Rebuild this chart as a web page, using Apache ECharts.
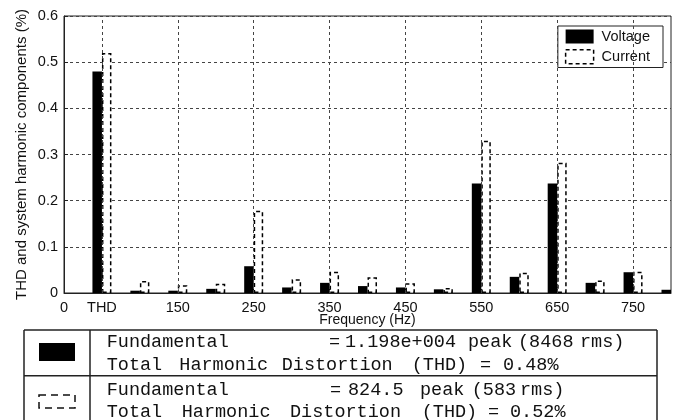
<!DOCTYPE html>
<html>
<head>
<meta charset="utf-8">
<script src="https://cdn.jsdelivr.net/npm/echarts@6/dist/echarts.min.js"></script>
<style>
html,body{margin:0;padding:0;background:#fff;}
#chart{width:679px;height:420px;}
</style>
</head>
<body>
<div id="chart"></div>
<script>
// ---- data ----
const xPositions = [1, 2, 3, 4, 5, 6, 7, 8, 9, 10, 11, 12, 13, 14, 15, 16];
const voltage = [0.48, 0.005, 0.005, 0.009, 0.058, 0.012, 0.022, 0.015, 0.012, 0.008, 0.237, 0.035, 0.237, 0.022, 0.045, 0.007];
const current = [0.52, 0.026, 0.017, 0.020, 0.178, 0.030, 0.046, 0.034, 0.021, 0.011, 0.330, 0.044, 0.282, 0.027, 0.046, null];
const tickValues = [0, 1, 3, 5, 7, 9, 11, 13, 15];
const tickLabels = ['0', 'THD', '150', '250', '350', '450', '550', '650', '750'];
const gridXValues = [1, 3, 5, 7, 9, 11, 13, 15];
const seriesNames = ['Voltage', 'Current'];
const xAxisTitle = 'Frequency (Hz)';
const yAxisTitle = 'THD and system harmonic components (%)';
const tableLines = [
  ['Fundamental', '=', '1.198e+004', 'peak', '(8468', 'rms)'],
  ['Total', 'Harmonic', 'Distortion', '(THD)', '=', '0.48%'],
  ['Fundamental', '=', '824.5', 'peak', '(583', 'rms)'],
  ['Total', 'Harmonic', 'Distortion', '(THD)', '=', '0.52%']
];

// ---- layout (not data) ----
const wordX = [
  [106.7, 329, 345, 468, 518, 580],
  [106.7, 179.3, 281.7, 411.7, 480, 503],
  [106.7, 330, 348, 420, 471.7, 520],
  [106.7, 181.7, 290, 421.7, 488, 510]
];
const lineY = [342.5, 365.5, 390.5, 412.5];

const chart = echarts.init(document.getElementById('chart'), null, {renderer: 'canvas'});
const sansFont = 'Liberation Sans, Arial, Helvetica, sans-serif';
const monoFont = 'Liberation Mono, Courier New, monospace';
const ink = '#111';

const graphics = [];
// table frame
const frameStyle = {stroke: '#222', lineWidth: 1.5};
graphics.push({type: 'line', shape: {x1: 24, y1: 330, x2: 657, y2: 330}, style: frameStyle});
graphics.push({type: 'line', shape: {x1: 24, y1: 375.7, x2: 657, y2: 375.7}, style: frameStyle});
graphics.push({type: 'line', shape: {x1: 24, y1: 330, x2: 24, y2: 421}, style: frameStyle});
graphics.push({type: 'line', shape: {x1: 657, y1: 330, x2: 657, y2: 421}, style: frameStyle});
graphics.push({type: 'line', shape: {x1: 90, y1: 330, x2: 90, y2: 421}, style: frameStyle});
// swatches
graphics.push({type: 'rect', shape: {x: 39, y: 343, width: 36, height: 18}, style: {fill: '#000'}});
graphics.push({type: 'rect', shape: {x: 39, y: 395, width: 36, height: 13}, style: {fill: 'none', stroke: '#111', lineWidth: 1.5, lineDash: [7, 5]}});
// table text
tableLines.forEach(function (words, r) {
  words.forEach(function (w, i) {
    graphics.push({
      type: 'text', x: wordX[r][i], y: lineY[r],
      style: {text: w, fill: ink, font: '18.5px ' + monoFont, textVerticalAlign: 'middle', verticalAlign: 'middle', textAlign: 'left'}
    });
  });
});

const option = {
  backgroundColor: '#fff',
  animation: false,
  grid: {left: 64, right: 8, top: 16, bottom: 127, show: true, borderColor: '#222', borderWidth: 1, containLabel: false, outerBoundsMode: 'none'},
  legend: {
    data: [
      {name: seriesNames[0], itemStyle: {color: '#000', borderWidth: 0}},
      {name: seriesNames[1], itemStyle: {color: '#fff', borderColor: '#000', borderWidth: 1.5, borderType: [4, 3]}}
    ],
    orient: 'vertical', right: 16, top: 26,
    itemWidth: 28, itemHeight: 14, itemGap: 5,
    padding: [3, 13, 3, 7],
    borderColor: '#222', borderWidth: 1, backgroundColor: '#fff',
    icon: 'rect',
    textStyle: {color: ink, fontSize: 14.5, fontFamily: sansFont, padding: [0, 0, 0, 3]}
  },
  xAxis: {
    type: 'value', min: 0, max: 16,
    name: xAxisTitle, nameLocation: 'middle', nameGap: 20, nameMoveOverlap: false,
    nameTextStyle: {color: ink, fontSize: 14, fontFamily: sansFont},
    axisLine: {show: true, onZero: false, lineStyle: {color: '#222', width: 1}},
    axisTick: {show: true, inside: true, length: 4, customValues: tickValues, lineStyle: {color: '#222'}},
    axisLabel: {
      show: true, customValues: tickValues, margin: 7,
      color: ink, fontSize: 14.5, fontFamily: sansFont,
      formatter: function (v) { const i = tickValues.indexOf(v); return i >= 0 ? tickLabels[i] : ''; }
    },
    splitLine: {show: false}
  },
  yAxis: {
    type: 'value', min: 0, max: 0.6, interval: 0.1,
    name: yAxisTitle, nameLocation: 'middle', nameGap: 35, nameMoveOverlap: false,
    nameTextStyle: {color: ink, fontSize: 15, fontFamily: sansFont},
    axisLine: {show: true, lineStyle: {color: '#222', width: 1}},
    axisTick: {show: true, inside: true, length: 4, lineStyle: {color: '#222'}},
    axisLabel: {color: ink, fontSize: 14.5, fontFamily: sansFont, margin: 6,
      formatter: function (v) { return String(Math.round(v * 10) / 10); }},
    splitLine: {show: true, lineStyle: {color: '#444', width: 1, type: [3, 3]}}
  },
  series: [
    {
      name: 'grid-x', type: 'scatter', data: [], z: 1, silent: true,
      markLine: {
        silent: true, symbol: 'none', animation: false,
        label: {show: false},
        lineStyle: {color: '#444', width: 1, type: [3, 3]},
        data: gridXValues.map(function (v) { return {xAxis: v}; })
      }
    },
    {
      name: seriesNames[0], type: 'bar', z: 3,
      barWidth: 9.5, barGap: '0%',
      itemStyle: {color: '#000'},
      data: xPositions.map(function (x, i) { return [x, voltage[i]]; })
    },
    {
      name: seriesNames[1], type: 'bar', z: 3,
      barWidth: 9.5, barGap: '0%',
      itemStyle: {color: '#fff', borderColor: '#000', borderWidth: 1.5, borderType: [4, 3]},
      data: xPositions.map(function (x, i) { return [x, current[i]]; })
    }
  ],
  graphic: graphics
};
chart.setOption(option);
</script>
</body>
</html>
